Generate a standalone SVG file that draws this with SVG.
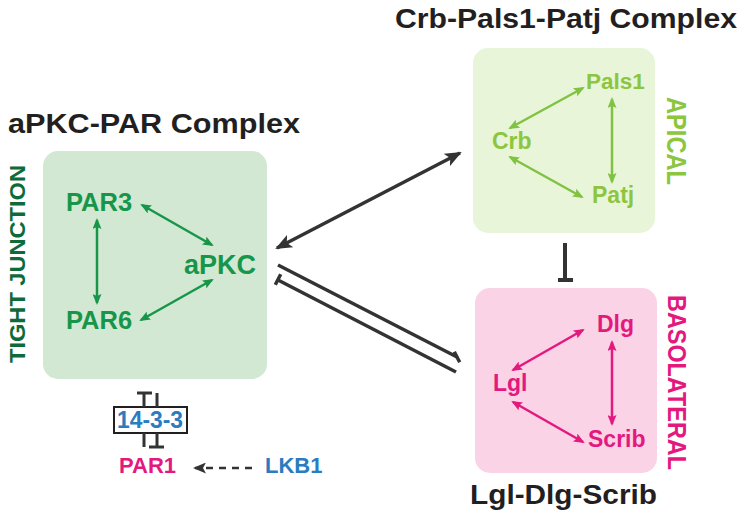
<svg xmlns="http://www.w3.org/2000/svg" width="741" height="519" viewBox="0 0 741 519">
<style>
text{font-family:"Liberation Sans",Arial,sans-serif;font-weight:bold}
.title{font-size:27px;fill:#231f20}
.g{fill:#17964a}
.lg{fill:#8cc63f}
.pk{fill:#e3197e}
.bl{fill:#2a7bc0}
.ag{stroke:#17964a;stroke-width:2.5;fill:none;marker-start:url(#mg);marker-end:url(#mg)}
.alg{stroke:#80c342;stroke-width:2.5;fill:none;marker-start:url(#mlg);marker-end:url(#mlg)}
.apk{stroke:#e3197e;stroke-width:2.5;fill:none;marker-start:url(#mpk);marker-end:url(#mpk)}
.dk{stroke:#333333;fill:none}
</style>
<defs>
<marker id="mg" markerUnits="userSpaceOnUse" viewBox="0 0 11 9" markerWidth="11" markerHeight="9" refX="9" refY="4.5" orient="auto-start-reverse"><path d="M0,0 L11,4.5 L0,9 L2,4.5 z" fill="#17964a"/></marker>
<marker id="mlg" markerUnits="userSpaceOnUse" viewBox="0 0 11 9" markerWidth="11" markerHeight="9" refX="9" refY="4.5" orient="auto-start-reverse"><path d="M0,0 L11,4.5 L0,9 L2,4.5 z" fill="#80c342"/></marker>
<marker id="mpk" markerUnits="userSpaceOnUse" viewBox="0 0 11 9" markerWidth="11" markerHeight="9" refX="9" refY="4.5" orient="auto-start-reverse"><path d="M0,0 L11,4.5 L0,9 L2,4.5 z" fill="#e3197e"/></marker>
<marker id="mdk" markerUnits="userSpaceOnUse" viewBox="0 0 17 14" markerWidth="17" markerHeight="14" refX="15" refY="7" orient="auto-start-reverse"><path d="M0,0 L17,7 L0,14 L4,7 z" fill="#333333"/></marker>
<marker id="mds" markerUnits="userSpaceOnUse" viewBox="0 0 13 11" markerWidth="13" markerHeight="11" refX="11" refY="5.5" orient="auto-start-reverse"><path d="M0,0 L13,5.5 L0,11 L3,5.5 z" fill="#333333"/></marker>
</defs>

<g id="apkc-complex">
<text class="title" x="8" y="133" textLength="292" lengthAdjust="spacingAndGlyphs">aPKC-PAR Complex</text>
<rect x="43" y="151" width="224" height="228" rx="15" fill="#d2e8d2"/>
<text transform="translate(25,264) rotate(-90)" text-anchor="middle" font-size="22" fill="#0d6b3a" textLength="198" lengthAdjust="spacingAndGlyphs">TIGHT JUNCTION</text>
<text class="g" x="66" y="211" font-size="25.5">PAR3</text>
<text class="g" x="66" y="329" font-size="25.5">PAR6</text>
<text class="g" x="184" y="274" font-size="27">aPKC</text>
<line class="ag" x1="97" y1="220" x2="97" y2="303"/>
<line class="ag" x1="142" y1="205" x2="212" y2="245"/>
<line class="ag" x1="212" y1="280" x2="141" y2="320"/>
</g>

<g id="crb-complex">
<text class="title" x="395" y="28" textLength="342" lengthAdjust="spacingAndGlyphs">Crb-Pals1-Patj Complex</text>
<rect x="473" y="48" width="182" height="185" rx="15" fill="#e9f5d9"/>
<text class="lg" transform="translate(667,141) rotate(90)" text-anchor="middle" font-size="27" textLength="88" lengthAdjust="spacingAndGlyphs">APICAL</text>
<text class="lg" x="586" y="89" font-size="22.5">Pals1</text>
<text class="lg" x="492" y="149" font-size="23">Crb</text>
<text class="lg" x="592" y="203" font-size="23">Patj</text>
<line class="alg" x1="510" y1="128" x2="583" y2="88"/>
<line class="alg" x1="612" y1="99" x2="612" y2="182"/>
<line class="alg" x1="510" y1="157" x2="582" y2="197"/>
</g>

<g id="lgl-complex">
<text class="title" x="470" y="504" textLength="187" lengthAdjust="spacingAndGlyphs">Lgl-Dlg-Scrib</text>
<rect x="475" y="288" width="182" height="185" rx="15" fill="#fbd3e6"/>
<text class="pk" transform="translate(668,382.5) rotate(90)" text-anchor="middle" font-size="26" textLength="175" lengthAdjust="spacingAndGlyphs">BASOLATERAL</text>
<text class="pk" x="597" y="332" font-size="23">Dlg</text>
<text class="pk" x="493" y="391" font-size="23">Lgl</text>
<text class="pk" x="588" y="447" font-size="23">Scrib</text>
<line class="apk" x1="513" y1="370" x2="583" y2="330"/>
<line class="apk" x1="612" y1="342" x2="612" y2="424"/>
<line class="apk" x1="513" y1="402" x2="583" y2="442"/>
</g>

<g id="n14-3-3">
<rect x="114" y="407" width="73" height="26" fill="#ffffff" stroke="#231f20" stroke-width="2"/>
<text class="bl" x="117" y="428" font-size="24" textLength="66" lengthAdjust="spacingAndGlyphs">14-3-3</text>
</g>
<g id="par1"><text class="pk" x="119" y="473" font-size="22">PAR1</text></g>
<g id="lkb1"><text class="bl" x="265" y="473" font-size="22">LKB1</text></g>

<g id="connectors">
<line class="dk" stroke-width="3.5" x1="277" y1="248" x2="460" y2="153" marker-start="url(#mdk)" marker-end="url(#mdk)"/>
<line class="dk" stroke-width="3.5" x1="278" y1="265" x2="457" y2="357"/>
<line class="dk" stroke-width="3.5" x1="454.3" y1="351.7" x2="459.7" y2="362.3"/>
<line class="dk" stroke-width="3.5" x1="278" y1="280" x2="456" y2="372"/>
<line class="dk" stroke-width="3.5" x1="280.7" y1="274.2" x2="275.3" y2="284.8"/>
<line class="dk" stroke-width="4" x1="565" y1="243" x2="565" y2="280"/>
<line class="dk" stroke-width="4" x1="558" y1="280" x2="573" y2="280"/>
<line class="dk" stroke-width="3" x1="144" y1="393" x2="144" y2="407"/>
<line class="dk" stroke-width="3" x1="137" y1="393" x2="152" y2="393"/>
<line class="dk" stroke-width="3" x1="157" y1="393" x2="157" y2="407"/>
<line class="dk" stroke-width="3" x1="144" y1="433" x2="144" y2="447"/>
<line class="dk" stroke-width="3" x1="157" y1="433" x2="157" y2="447"/>
<line class="dk" stroke-width="3" x1="149" y1="447" x2="164" y2="447"/>
<line class="dk" stroke-width="2.5" x1="252" y1="468" x2="195" y2="468" stroke-dasharray="7 6" marker-end="url(#mds)"/>
</g>
</svg>
